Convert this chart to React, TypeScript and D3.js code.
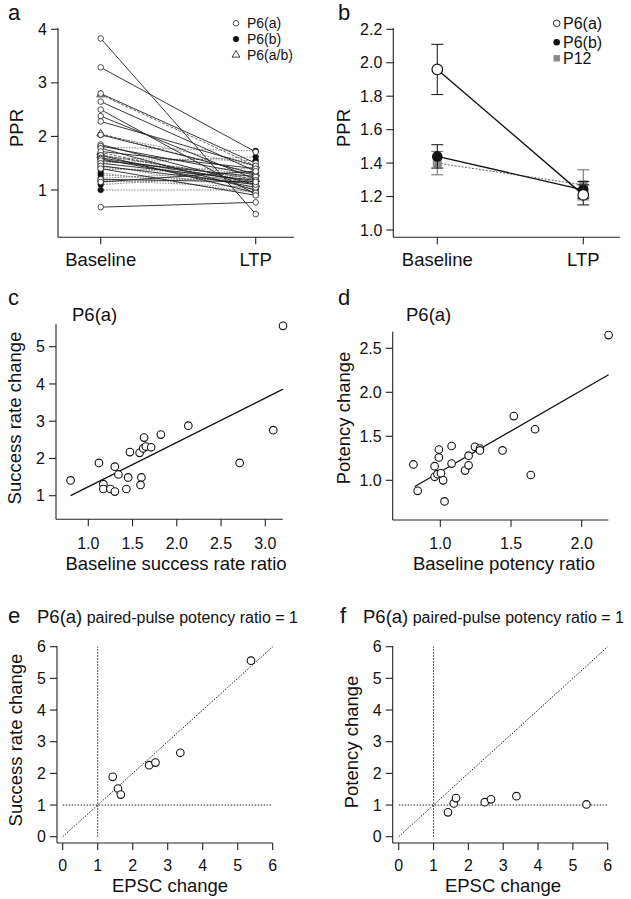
import React from 'react';
import * as d3 from 'd3';

const FONT = '"Liberation Sans", Arial, Helvetica, sans-serif';
const AX = '#222';

// ---------- Panel a ----------
const conditions = ['Baseline', 'LTP'];
const pprTicksA = [1, 2, 3, 4];
const p6aBaseline = [3.83, 3.29, 2.8, 2.65, 2.5, 2.38, 2.28, 2.03, 1.85, 1.82, 1.78, 1.72, 1.65, 1.6, 1.58, 1.55, 1.5, 1.45, 1.4, 1.2, 1.15, 0.68];
const p6aLTP = [0.55, 1.71, 1.5, 1.35, 0.92, 1.2, 1.45, 1.3, 1.1, 1.28, 1.0, 1.4, 0.95, 1.15, 1.05, 1.25, 1.18, 1.1, 0.9, 1.15, 1.35, 0.77];
const p6bBaseline = [2.03, 1.8, 1.65, 1.6, 1.58, 1.55, 1.5, 1.46, 1.42, 1.38, 1.32, 1.28, 1.22, 1.18, 1.15, 1.1, 1.0];
const p6bLTP = [1.45, 1.73, 1.2, 1.55, 1.1, 1.3, 1.62, 1.0, 1.25, 1.4, 0.95, 1.15, 1.35, 1.05, 1.22, 1.28, 1.0];
const p6abBaseline = [2.78, 2.05, 1.7, 1.65];
const p6abLTP = [1.45, 1.3, 1.1, 1.2];
const legendA = ['P6(a)', 'P6(b)', 'P6(a/b)'];

// ---------- Panel b ----------
const groupsB = ['P6(a)', 'P6(b)', 'P12'];
const baselineMeanB = [1.96, 1.44, 1.4];
const baselineErrB = [0.15, 0.07, 0.07];
const ltpMeanB = [1.21, 1.24, 1.27];
const ltpErrB = [0.06, 0.05, 0.09];
const pprTicksB = [1.0, 1.2, 1.4, 1.6, 1.8, 2.0, 2.2];

// ---------- Panel c ----------
const cBaselineSuccess = [0.8, 1.12, 1.17, 1.17, 1.25, 1.3, 1.3, 1.34, 1.43, 1.45, 1.47, 1.58, 1.6, 1.59, 1.62, 1.63, 1.65, 1.71, 1.82, 2.13, 2.71, 3.09, 3.2];
const cSuccessChange = [1.41, 1.88, 1.31, 1.18, 1.18, 1.78, 1.11, 1.57, 1.18, 1.49, 2.17, 2.15, 1.49, 1.29, 2.27, 2.56, 2.32, 2.3, 2.64, 2.88, 1.88, 2.76, 5.56];
const cFitX = [0.8, 3.2];
const cFitY = [1.0, 3.86];
const cTicksX = [1.0, 1.5, 2.0, 2.5, 3.0];
const cTicksY = [1, 2, 3, 4, 5];

// ---------- Panel d ----------
const dBaselinePotency = [0.81, 0.84, 0.96, 0.96, 0.98, 0.99, 0.99, 1.005, 1.02, 1.03, 1.08, 1.08, 1.175, 1.2, 1.2, 1.245, 1.28, 1.28, 1.44, 1.52, 1.64, 1.67, 2.19];
const dPotencyChange = [1.18, 0.88, 1.04, 1.16, 1.07, 1.35, 1.26, 1.08, 1.0, 0.76, 1.39, 1.19, 1.11, 1.28, 1.17, 1.38, 1.36, 1.34, 1.34, 1.73, 1.06, 1.58, 2.65];
const dFitX = [0.82, 2.19];
const dFitY = [0.93, 2.2];
const dTicksX = [1.0, 1.5, 2.0];
const dTicksY = [1.0, 1.5, 2.0, 2.5];

// ---------- Panels e, f ----------
const efTicks = [0, 1, 2, 3, 4, 5, 6];
const eEPSC = [1.43, 1.58, 1.66, 2.47, 2.65, 3.36, 5.38];
const eSuccess = [1.89, 1.52, 1.33, 2.26, 2.34, 2.65, 5.56];
const fEPSC = [1.415, 1.58, 1.645, 2.47, 2.65, 3.38, 5.39];
const fPotency = [0.77, 1.05, 1.22, 1.09, 1.18, 1.28, 1.02];

type Scale = d3.ScaleLinear<number, number>;

function YAxis({ x, top, bottom, scale, ticks, fmt, fs = 15, tl = 7 }: { x: number; top: number; bottom: number; scale: Scale; ticks: number[]; fmt: (v: number) => string; fs?: number; tl?: number }) {
  return (
    <g>
      <line x1={x} x2={x} y1={top} y2={bottom} stroke={AX} strokeWidth={1.1} />
      {ticks.map((t, i) => (
        <g key={i}>
          <line x1={x - tl} x2={x} y1={scale(t)} y2={scale(t)} stroke={AX} strokeWidth={1.1} />
          <text x={x - tl - 4} y={scale(t)} dy="0.35em" textAnchor="end" fontSize={fs} fontFamily={FONT} fill="#111">{fmt(t)}</text>
        </g>
      ))}
    </g>
  );
}

function XAxis({ y, left, right, scale, ticks, labels, fs = 15, tl = 7, labelY }: { y: number; left: number; right: number; scale: Scale; ticks: number[]; labels: string[]; fs?: number; tl?: number; labelY: number }) {
  return (
    <g>
      <line x1={left} x2={right} y1={y} y2={y} stroke={AX} strokeWidth={1.1} />
      {ticks.map((t, i) => (
        <g key={i}>
          <line x1={scale(t)} x2={scale(t)} y1={y} y2={y + tl} stroke={AX} strokeWidth={1.1} />
          <text x={scale(t)} y={labelY} textAnchor="middle" fontSize={fs} fontFamily={FONT} fill="#111">{labels[i]}</text>
        </g>
      ))}
    </g>
  );
}

function Txt({ x, y, s, fs, anchor = 'start', rot = false }: { x: number; y: number; s: string; fs: number; anchor?: string; rot?: boolean }) {
  return (
    <text x={rot ? 0 : x} y={rot ? 0 : y} transform={rot ? `translate(${x},${y}) rotate(-90)` : undefined} textAnchor={anchor as any} fontSize={fs} fontFamily={FONT} fill="#111">{s}</text>
  );
}

function Scatter({ xs, ys, sx, sy, r = 3.8 }: { xs: number[]; ys: number[]; sx: Scale; sy: Scale; r?: number }) {
  return (
    <g>
      {xs.map((v, i) => (
        <circle key={i} cx={sx(v)} cy={sy(ys[i])} r={r} fill="#fff" stroke="#111" strokeWidth={1.1} />
      ))}
    </g>
  );
}

function Triangle({ cx, cy, s }: { cx: number; cy: number; s: number }) {
  const p = d3.symbol().type(d3.symbolTriangle).size(s)();
  return <path d={p as string} transform={`translate(${cx},${cy})`} fill="#fff" stroke="#111" strokeWidth={0.8} />;
}

export default function App() {
  const f1 = d3.format('.0f');
  const f2 = d3.format('.1f');

  const xa = d3.scaleLinear().domain([0, 1]).range([100.7, 255.7]);
  const ya = d3.scaleLinear().domain([1, 4]).range([190, 29.3]);
  const xb = d3.scaleLinear().domain([0, 1]).range([437.3, 583.3]);
  const yb = d3.scaleLinear().domain([1.0, 2.2]).range([230, 29.3]);
  const xc = d3.scaleLinear().domain([1, 3]).range([88.3, 265.3]);
  const yc = d3.scaleLinear().domain([1, 5]).range([495.7, 346.7]);
  const xd = d3.scaleLinear().domain([1, 2]).range([440.3, 581.7]);
  const yd = d3.scaleLinear().domain([1, 2.5]).range([480.3, 348.3]);
  const xe = d3.scaleLinear().domain([0, 6]).range([62.7, 272.7]);
  const ye = d3.scaleLinear().domain([0, 6]).range([836.7, 646.7]);
  const xf = d3.scaleLinear().domain([0, 6]).range([398.7, 607.7]);
  const yf = ye;

  const dotted = '1.6,1.2';

  const seriesA = [
    { b: p6bBaseline, l: p6bLTP, kind: 'filled', stroke: '#7a7a7a', dash: dotted },
    { b: p6abBaseline, l: p6abLTP, kind: 'tri', stroke: '#555', dash: '3,1.5' },
    { b: p6aBaseline, l: p6aLTP, kind: 'open', stroke: '#222', dash: undefined },
  ];

  const markerA = (kind: string, cx: number, cy: number, key: string) => {
    if (kind === 'filled') return <circle key={key} cx={cx} cy={cy} r={2.8} fill="#111" stroke="#111" strokeWidth={0.6} />;
    if (kind === 'tri') return <Triangle key={key} cx={cx} cy={cy} s={26} />;
    return <circle key={key} cx={cx} cy={cy} r={2.8} fill="#fff" stroke="#222" strokeWidth={0.8} />;
  };

  const styleB = [
    { fill: '#fff', stroke: '#111', line: '#111', dash: undefined, shape: 'circle' },
    { fill: '#111', stroke: '#111', line: '#111', dash: undefined, shape: 'circle' },
    { fill: '#888', stroke: '#888', line: '#666', dash: '2,1.5', shape: 'square' },
  ];
  const orderB = [2, 1, 0];

  const efTitle = (x: number) => (
    <text x={x} y={623} fontFamily={FONT} fill="#111">
      <tspan fontSize={18.5}>P6(a)</tspan>
      <tspan fontSize={16}> paired-pulse potency ratio = 1</tspan>
    </text>
  );

  const refLines = (sx: Scale, sy: Scale) => (
    <g>
      <line x1={sx(1)} x2={sx(1)} y1={sy(0)} y2={sy(6)} stroke="#222" strokeWidth={1} strokeDasharray="1.5,1.5" />
      <line x1={sx(0)} x2={sx(6)} y1={sy(1)} y2={sy(1)} stroke="#222" strokeWidth={1} strokeDasharray="1.5,1.5" />
      <line x1={sx(0)} x2={sx(6)} y1={sy(0)} y2={sy(6)} stroke="#222" strokeWidth={1} strokeDasharray="1.5,1.5" />
    </g>
  );

  return (
    <svg width={631} height={899} style={{ position: 'absolute', left: 0, top: 0, background: '#fff' }} xmlns="http://www.w3.org/2000/svg">
      <rect x={0} y={0} width={631} height={899} fill="#fff" />

      {/* ===== Panel a ===== */}
      <Txt x={8} y={20} s="a" fs={22} />
      <YAxis x={58} top={28} bottom={237.3} scale={ya} ticks={pprTicksA} fmt={f1} fs={16} />
      <XAxis y={237.3} left={58} right={294} scale={xa} ticks={[0, 1]} labels={conditions} fs={18.5} labelY={266} />
      <Txt x={23} y={128} s="PPR" fs={18.5} anchor="middle" rot />
      {seriesA.map((s, si) => (
        <g key={si}>
          {s.b.map((v, i) => (
            <line key={i} x1={xa(0)} y1={ya(v)} x2={xa(1)} y2={ya(s.l[i])} stroke={s.stroke} strokeWidth={0.9} strokeDasharray={s.dash} />
          ))}
        </g>
      ))}
      {seriesA.map((s, si) => (
        <g key={'m' + si}>
          {s.b.map((v, i) => markerA(s.kind, xa(0), ya(v), 'b' + i))}
          {s.l.map((v, i) => markerA(s.kind, xa(1), ya(v), 'l' + i))}
        </g>
      ))}
      {legendA.map((name, i) => (
        <g key={name}>
          {markerA(['open', 'filled', 'tri'][i], 236, 23.3 + i * 15.8, 'lg' + i)}
          <Txt x={247} y={23.3 + i * 15.8 + 5} s={name} fs={14} />
        </g>
      ))}

      {/* ===== Panel b ===== */}
      <Txt x={338} y={20} s="b" fs={22} />
      <YAxis x={393.3} top={28} bottom={237.3} scale={yb} ticks={pprTicksB} fmt={f2} fs={16} />
      <XAxis y={237.3} left={393.3} right={620} scale={xb} ticks={[0, 1]} labels={conditions} fs={18.5} labelY={266} />
      <Txt x={350} y={128} s="PPR" fs={18.5} anchor="middle" rot />
      {orderB.map((gi) => {
        const st = styleB[gi];
        return (
          <line key={'ln' + gi} x1={xb(0)} y1={yb(baselineMeanB[gi])} x2={xb(1)} y2={yb(ltpMeanB[gi])} stroke={st.line} strokeWidth={st.dash ? 1 : 1.4} strokeDasharray={st.dash} />
        );
      })}
      {orderB.map((gi) => {
        const st = styleB[gi];
        const pts = [
          { x: xb(0), m: baselineMeanB[gi], e: baselineErrB[gi] },
          { x: xb(1), m: ltpMeanB[gi], e: ltpErrB[gi] },
        ];
        const ec = gi === 2 ? '#777' : '#222';
        return (
          <g key={'pt' + gi}>
            {pts.map((p, k) => (
              <g key={k}>
                <line x1={p.x} x2={p.x} y1={yb(p.m - p.e)} y2={yb(p.m + p.e)} stroke={ec} strokeWidth={1.1} />
                <line x1={p.x - 6} x2={p.x + 6} y1={yb(p.m - p.e)} y2={yb(p.m - p.e)} stroke={ec} strokeWidth={1.1} />
                <line x1={p.x - 6} x2={p.x + 6} y1={yb(p.m + p.e)} y2={yb(p.m + p.e)} stroke={ec} strokeWidth={1.1} />
                {st.shape === 'square' ? (
                  <rect x={p.x - 4.5} y={yb(p.m) - 4.5} width={9} height={9} fill={st.fill} />
                ) : (
                  <circle cx={p.x} cy={yb(p.m)} r={gi === 0 ? 5.3 : 4.7} fill={st.fill} stroke={st.stroke} strokeWidth={1.2} />
                )}
              </g>
            ))}
          </g>
        );
      })}
      {groupsB.map((name, i) => {
        const y = [23.3, 42.3, 58.3][i];
        return (
          <g key={name}>
            {i === 0 && <circle cx={556.7} cy={y} r={3.3} fill="#fff" stroke="#111" strokeWidth={0.9} />}
            {i === 1 && <circle cx={556.7} cy={y} r={3.3} fill="#111" />}
            {i === 2 && <rect x={553.5} y={y - 3.2} width={6.4} height={6.4} fill="#888" />}
            <Txt x={563} y={y + 5.5} s={name} fs={16} />
          </g>
        );
      })}

      {/* ===== Panel c ===== */}
      <Txt x={8} y={305} s="c" fs={22} />
      <Txt x={72} y={321} s="P6(a)" fs={18.5} />
      <YAxis x={56} top={324} bottom={519.3} scale={yc} ticks={cTicksY} fmt={f1} fs={16} />
      <XAxis y={519.3} left={56} right={282.7} scale={xc} ticks={cTicksX} labels={cTicksX.map(f2)} fs={16} labelY={549} />
      <Txt x={21} y={418} s="Success rate change" fs={18.5} anchor="middle" rot />
      <Txt x={176} y={570} s="Baseline success rate ratio" fs={18.5} anchor="middle" />
      <line x1={xc(cFitX[0])} y1={yc(cFitY[0])} x2={xc(cFitX[1])} y2={yc(cFitY[1])} stroke="#111" strokeWidth={1.3} />
      <Scatter xs={cBaselineSuccess} ys={cSuccessChange} sx={xc} sy={yc} />

      {/* ===== Panel d ===== */}
      <Txt x={338} y={305} s="d" fs={22} />
      <Txt x={406} y={321} s="P6(a)" fs={18.5} />
      <YAxis x={392.7} top={331.7} bottom={520} scale={yd} ticks={dTicksY} fmt={f2} fs={16} />
      <XAxis y={520} left={392.7} right={608.3} scale={xd} ticks={dTicksX} labels={dTicksX.map(f2)} fs={16} labelY={549} />
      <Txt x={350} y={418} s="Potency change" fs={18.5} anchor="middle" rot />
      <Txt x={504} y={570} s="Baseline potency ratio" fs={18.5} anchor="middle" />
      <line x1={xd(dFitX[0])} y1={yd(dFitY[0])} x2={xd(dFitX[1])} y2={yd(dFitY[1])} stroke="#111" strokeWidth={1.3} />
      <Scatter xs={dBaselinePotency} ys={dPotencyChange} sx={xd} sy={yd} />

      {/* ===== Panel e ===== */}
      <Txt x={8} y={623} s="e" fs={22} />
      {efTitle(37)}
      {refLines(xe, ye)}
      <YAxis x={57} top={646} bottom={843} scale={ye} ticks={efTicks} fmt={f1} fs={16} />
      <XAxis y={843} left={57} right={272.7} scale={xe} ticks={efTicks} labels={efTicks.map(f1)} fs={16} labelY={871} />
      <Txt x={22} y={740} s="Success rate change" fs={18.5} anchor="middle" rot />
      <Txt x={170} y={892} s="EPSC change" fs={18.5} anchor="middle" />
      <Scatter xs={eEPSC} ys={eSuccess} sx={xe} sy={ye} />

      {/* ===== Panel f ===== */}
      <Txt x={340} y={623} s="f" fs={22} />
      {efTitle(363)}
      {refLines(xf, yf)}
      <YAxis x={392.7} top={646} bottom={843} scale={yf} ticks={efTicks} fmt={f1} fs={16} />
      <XAxis y={843} left={392.7} right={607.7} scale={xf} ticks={efTicks} labels={efTicks.map(f1)} fs={16} labelY={871} />
      <Txt x={358} y={742} s="Potency change" fs={18.5} anchor="middle" rot />
      <Txt x={503} y={892} s="EPSC change" fs={18.5} anchor="middle" />
      <Scatter xs={fEPSC} ys={fPotency} sx={xf} sy={yf} />
    </svg>
  );
}
